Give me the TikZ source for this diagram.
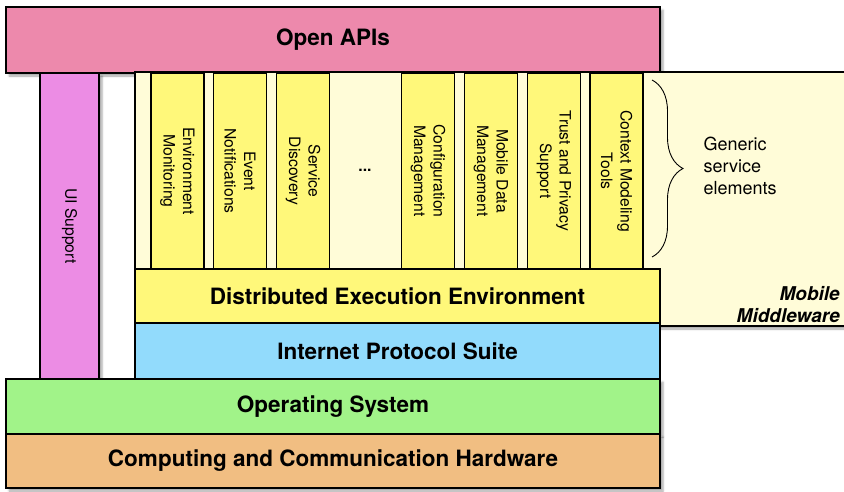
\documentclass[tikz,border=0pt]{standalone}
\usepackage{fontspec}
\setmainfont{TeX Gyre Heros}
\usetikzlibrary{positioning,decorations.pathreplacing,shadows.blur}
\definecolor{apipink}{RGB}{237,137,172}
\definecolor{uiviolet}{RGB}{236,140,228}
\definecolor{mwcream}{RGB}{255,252,216}
\definecolor{svcyellow}{RGB}{255,248,122}
\definecolor{ipblue}{RGB}{146,219,252}
\definecolor{osgreen}{RGB}{161,243,137}
\definecolor{hworange}{RGB}{241,190,130}
\tikzset{
    layerbox/.style={draw, line width=1.2pt, outer sep=0pt, inner sep=0pt,
        anchor=north west, font=\fontsize{22.5}{26}\selectfont\bfseries},
    svcbox/.style={draw, line width=1.2pt, outer sep=0pt, inner sep=0pt,
        fill=svcyellow, rotate=-90, minimum width=196pt, minimum height=53pt,
        align=center, font=\fontsize{15.7}{19.5}\selectfont},
    softshadow/.style={blur shadow={shadow xshift=3pt, shadow yshift=-3pt,
        shadow blur steps=5, shadow opacity=35}}
}

\begin{document}
\begin{tikzpicture}[x=1pt, y=-1pt]
\clip (0,0) rectangle (844,491);
% API layer on top
\node[layerbox, softshadow, fill=apipink, minimum width=654pt, minimum height=66pt] (api) at (6,7) {Open APIs};
% middleware area behind the service elements
\node[draw, line width=1.2pt, outer sep=0pt, fill=mwcream, softshadow, anchor=north west,
    minimum width=730pt, minimum height=254pt] (mw) at (135,72) {};
% generic service elements
\node[svcbox] (envmon) at (177.5,171) {Environment\\Monitoring};
\node[svcbox] (eventnot) at (240,171) {Event\\Notifications};
\node[svcbox] (servdisc) at (303,171) {Service\\Discovery};
\node[font=\fontsize{15.7}{19}\selectfont\bfseries] (moredots) at (365,170) {...};
\node[svcbox] (confmgmt) at (428,171) {Configuration\\Management};
\node[svcbox] (mobdata) at (491,171) {Mobile Data\\Management};
\node[svcbox] (trustpriv) at (554,171) {Trust and Privacy\\Support};
\node[svcbox] (ctxtools) at (616.5,171) {Context Modeling\\Tools};
% middleware base and network layers
\node[layerbox, fill=svcyellow, minimum width=525pt, minimum height=54pt] (dee) at (135,269) {Distributed Execution Environment};
\node[layerbox, fill=ipblue, minimum width=525pt, minimum height=56pt, below=0pt of dee] (ips) {Internet Protocol Suite};
\node[draw, line width=1.2pt, outer sep=0pt, fill=uiviolet, softshadow, rotate=-90,
    minimum width=306pt, minimum height=59pt, font=\fontsize{15.7}{19}\selectfont] (uisup) at (69.5,226) {UI Support};
\node[layerbox, softshadow, fill=osgreen, minimum width=654pt, minimum height=55pt] (os) at (6,379) {Operating System};
\node[layerbox, softshadow, fill=hworange, minimum width=654pt, minimum height=54pt, below=0pt of os] (hw) {Computing and Communication Hardware};
% brace and labels
\coordinate (bracetop) at (652,80);
\coordinate (bracebot) at (652,257);
\draw[decorate, decoration={brace, amplitude=31pt}, line width=0.9pt] (bracetop) -- (bracebot);
\node[anchor=west, align=left, font=\fontsize{18}{22}\selectfont] (generic) at (700,166) {Generic\\service\\elements};
\node[anchor=south east, align=right, inner sep=0pt, font=\fontsize{19}{22}\selectfont\bfseries\itshape] (mwname) at (840,323) {Mobile\\Middleware};
\end{tikzpicture}
\end{document}
